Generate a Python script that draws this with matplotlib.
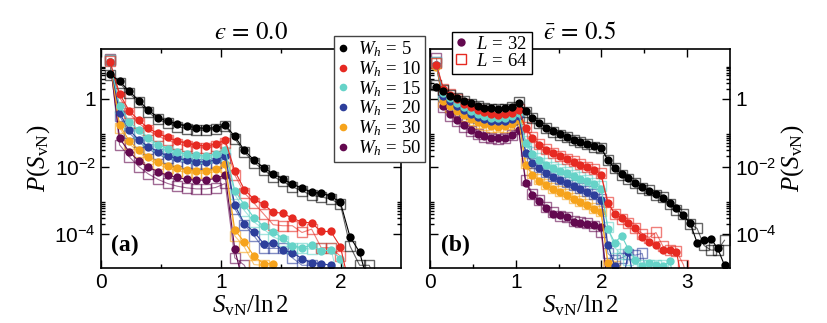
import numpy as np
import matplotlib.pyplot as plt
from matplotlib.lines import Line2D
from matplotlib.ticker import FixedLocator, NullFormatter

plt.rcParams['font.family'] = 'Liberation Sans'
plt.rcParams['mathtext.fontset'] = 'custom'
plt.rcParams['mathtext.rm'] = 'Liberation Serif'
plt.rcParams['mathtext.it'] = 'Liberation Serif:italic'
plt.rcParams['mathtext.bf'] = 'Liberation Serif:bold'
plt.rcParams['mathtext.sf'] = 'Liberation Sans'

# histogram bin centres of S_vN / ln 2
s_centers = np.round(0.075 + 0.08 * np.arange(43), 3)

wh_values = ['5', '10', '15', '20', '30', '50']
colors = ['#000000', '#e62a22', '#66d3c8', '#2d3f9b', '#f6a31c', '#63094f']

# ---- panel (a), eps = 0.0 : log10 P(S_vN) ----
# L = 32 (filled circles)
a32_w5 = [0.74, 0.52, 0.23, -0.05, -0.33, -0.55, -0.66, -0.74, -0.80, -0.85, -0.87, -0.85, -0.77,
          -1.11, -1.52, -1.81, -2.03, -2.22, -2.36, -2.52, -2.64, -2.76, -2.79, -2.87, -3.06,
          -4.08, -4.53, -5.6]
a32_w10 = [1.10, 0.15, -0.35, -0.63, -0.87, -1.02, -1.14, -1.24, -1.31, -1.37, -1.39, -1.34, -1.22,
           -2.13, -2.68, -2.97, -3.12, -3.35, -3.38, -3.53, -3.64, -3.67, -3.92, -3.92, -4.37, -5.6]
a32_w15 = [1.10, -0.20, -0.68, -0.92, -1.15, -1.35, -1.47, -1.57, -1.64, -1.67, -1.69, -1.63, -1.51,
           -2.71, -3.14, -3.51, -3.77, -3.93, -4.12, -4.34, -4.40, -4.33, -4.50, -4.47, -4.72, -5.6]
a32_w20 = [1.10, -0.42, -0.92, -1.21, -1.41, -1.56, -1.69, -1.76, -1.81, -1.86, -1.86, -1.81, -1.69,
           -3.14, -3.69, -3.93, -4.28, -4.26, -4.47, -4.55, -4.72, -4.85, -4.87, -4.92, -5.6]
a32_w30 = [1.10, -0.77, -1.24, -1.51, -1.71, -1.86, -1.98, -2.05, -2.10, -2.12, -2.12, -2.08, -1.92,
           -3.88, -4.23, -4.65, -4.87, -4.87, -5.6]
a32_w50 = [1.10, -1.17, -1.56, -1.84, -2.02, -2.15, -2.26, -2.32, -2.38, -2.40, -2.40, -2.35, -2.25,
           -4.45, -5.6]
# L = 64 (open squares)
a64_w5 = [0.72, 0.47, 0.17, -0.10, -0.40, -0.60, -0.72, -0.82, -0.88, -0.92, -0.93, -0.90, -0.80,
          -1.18, -1.58, -1.88, -2.10, -2.30, -2.44, -2.60, -2.72, -2.85, -2.90, -2.96, -3.12,
          -4.35, -4.92, -4.92, -5.6]
a64_w10 = [1.12, 0.05, -0.42, -0.72, -0.93, -1.10, -1.22, -1.32, -1.40, -1.44, -1.45, -1.40, -1.30,
           -2.25, -2.78, -3.08, -3.40, -3.72, -3.75, -3.75, -3.95, -3.85, -4.40, -4.40, -4.65, -5.6]
a64_w15 = [1.15, -0.28, -0.75, -1.00, -1.22, -1.40, -1.53, -1.63, -1.70, -1.74, -1.75, -1.70, -1.58,
           -2.82, -3.30, -3.64, -3.85, -4.08, -4.20, -4.40, -4.40, -4.45, -4.42, -4.42, -5.6]
a64_w20 = [1.15, -0.50, -1.00, -1.28, -1.48, -1.64, -1.76, -1.84, -1.90, -1.93, -1.93, -1.88, -1.76,
           -3.25, -3.72, -4.05, -4.42, -4.42, -4.42, -4.70, -4.92, -4.92, -5.6]
a64_w30 = [1.15, -0.85, -1.32, -1.58, -1.78, -1.93, -2.05, -2.12, -2.18, -2.20, -2.20, -2.15, -2.00,
           -4.05, -4.38, -4.90, -4.92, -5.6]
a64_w50 = [1.18, -1.36, -1.71, -2.00, -2.22, -2.38, -2.50, -2.58, -2.63, -2.66, -2.66, -2.62, -2.50,
           -4.70, -4.92, -5.6]

# ---- panel (b), eps_bar = 0.5 : log10 P(S_vN) ----
b32_w5 = [0.36, 0.24, 0.10, 0.02, -0.06, -0.13, -0.20, -0.26, -0.28, -0.30, -0.28, -0.23, -0.13,
          -0.36, -0.55, -0.70, -0.85, -0.95, -1.05, -1.12, -1.20, -1.26, -1.33, -1.40, -1.44,
          -1.81, -2.05, -2.22, -2.35, -2.48, -2.60, -2.72, -2.82, -2.92, -3.09, -3.24, -3.44,
          -3.68, -4.25, -4.16, -4.13, -4.42, -4.92]
b32_w10 = [1.00, 0.28, 0.12, 0.00, -0.15, -0.25, -0.33, -0.39, -0.45, -0.47, -0.46, -0.42, -0.33,
           -0.87, -1.15, -1.35, -1.50, -1.60, -1.70, -1.78, -1.86, -1.95, -2.02, -2.10, -2.25,
           -3.09, -3.39, -3.53, -3.68, -3.83, -4.08, -4.23, -4.33, -4.47, -4.47, -4.52, -5.6]
b32_w15 = [1.00, 0.18, 0.02, -0.12, -0.25, -0.36, -0.44, -0.50, -0.55, -0.57, -0.55, -0.50, -0.42,
           -1.30, -1.62, -1.80, -1.95, -2.05, -2.12, -2.20, -2.28, -2.36, -2.44, -2.52, -2.65,
           -3.85, -4.25, -4.05, -4.45, -4.75, -4.95, -4.85, -4.90, -4.95, -4.80, -5.6]
b32_w20 = [1.00, 0.10, -0.06, -0.20, -0.33, -0.44, -0.53, -0.60, -0.64, -0.66, -0.64, -0.60, -0.50,
           -1.60, -1.90, -2.05, -2.18, -2.30, -2.40, -2.50, -2.58, -2.66, -2.75, -2.85, -2.98,
           -4.33, -4.95, -5.6, -4.52, -5.6]
b32_w30 = [0.95, -0.05, -0.22, -0.36, -0.48, -0.60, -0.68, -0.75, -0.80, -0.82, -0.80, -0.74, -0.62,
           -1.95, -2.25, -2.42, -2.55, -2.66, -2.76, -2.85, -2.95, -3.05, -3.15, -3.25, -3.35,
           -4.86, -4.95, -5.6]
b32_w50 = [1.00, -0.20, -0.45, -0.62, -0.78, -0.92, -1.03, -1.10, -1.16, -1.17, -1.15, -1.07, -0.93,
           -2.48, -2.84, -3.02, -3.24, -3.39, -3.42, -3.49, -3.63, -3.66, -3.71, -3.73, -3.78, -5.6]
b64_w5 = [0.40, 0.26, 0.12, 0.02, -0.06, -0.14, -0.21, -0.27, -0.30, -0.31, -0.29, -0.24, -0.10,
          -0.38, -0.57, -0.72, -0.86, -0.97, -1.06, -1.14, -1.22, -1.28, -1.34, -1.42, -1.46,
          -1.80, -2.05, -2.24, -2.37, -2.50, -2.62, -2.70, -2.84, -2.90, -3.12, -3.28, -3.40,
          -3.70, -3.83, -4.33, -4.47, -4.47, -4.18]
b64_w10 = [1.05, 0.30, 0.14, 0.00, -0.15, -0.26, -0.34, -0.40, -0.45, -0.48, -0.47, -0.42, -0.30,
           -0.84, -1.12, -1.33, -1.48, -1.60, -1.68, -1.77, -1.85, -1.93, -2.00, -2.08, -2.20,
           -3.05, -3.40, -3.55, -3.68, -3.82, -3.98, -4.10, -3.95, -4.35, -4.48, -4.50, -4.90, -5.6]
b64_w15 = [1.08, 0.15, 0.00, -0.14, -0.27, -0.37, -0.45, -0.51, -0.55, -0.57, -0.55, -0.49, -0.38,
           -1.25, -1.58, -1.76, -1.90, -2.00, -2.08, -2.16, -2.24, -2.32, -2.40, -2.48, -2.58,
           -3.80, -4.40, -4.60, -4.75, -4.90, -4.90, -4.92, -4.90, -4.92, -5.6]
b64_w20 = [1.10, 0.08, -0.08, -0.22, -0.35, -0.46, -0.55, -0.62, -0.66, -0.68, -0.66, -0.61, -0.50,
           -1.55, -1.88, -2.02, -2.15, -2.27, -2.37, -2.47, -2.56, -2.64, -2.72, -2.82, -2.95,
           -4.57, -4.75, -4.70, -4.60, -4.62, -4.57, -5.6]
b64_w30 = [1.05, -0.08, -0.25, -0.39, -0.51, -0.62, -0.70, -0.77, -0.82, -0.84, -0.82, -0.75, -0.60,
           -1.90, -2.20, -2.38, -2.52, -2.62, -2.72, -2.82, -2.92, -3.02, -3.12, -3.22, -3.30,
           -4.92, -4.95, -5.6]
b64_w50 = [1.20, -0.25, -0.50, -0.66, -0.82, -0.95, -1.05, -1.12, -1.17, -1.18, -1.15, -1.06, -0.90,
           -2.40, -2.80, -3.00, -3.20, -3.35, -3.45, -3.50, -3.60, -3.65, -3.68, -3.75, -3.95, -5.6]

a32 = [a32_w5, a32_w10, a32_w15, a32_w20, a32_w30, a32_w50]
a64 = [a64_w5, a64_w10, a64_w15, a64_w20, a64_w30, a64_w50]
b32 = [b32_w5, b32_w10, b32_w15, b32_w20, b32_w30, b32_w50]
b64 = [b64_w5, b64_w10, b64_w15, b64_w20, b64_w30, b64_w50]


def draw(ax, circ, sq):
    for i in reversed(range(6)):
        y = 10.0 ** np.array(sq[i])
        ax.plot(s_centers[:len(y)], y, '-', color=colors[i], lw=0.8, alpha=0.6,
                marker='s', ms=7, mfc='none', mec=colors[i], mew=1.0)
    for i in reversed(range(6)):
        y = 10.0 ** np.array(circ[i])
        ax.plot(s_centers[:len(y)], y, '-', color=colors[i], lw=0.8,
                marker='o', ms=6, mfc=colors[i], mec=colors[i], mew=0)


def style(ax, xmax, xmajor, xminor):
    ax.set_yscale('log')
    ax.set_ylim(1e-5, 30)
    ax.set_xlim(0, xmax)
    ax.yaxis.set_major_locator(FixedLocator([1e-4, 1e-2, 1]))
    ax.yaxis.set_minor_locator(FixedLocator([m * 10.0 ** e for e in (-4, -2, 0) for m in range(2, 10)]))
    ax.yaxis.set_minor_formatter(NullFormatter())
    ax.set_yticklabels([r'$\mathsf{10^{-4}}$', r'$\mathsf{10^{-2}}$', '1'])
    ax.set_xticks(xmajor)
    ax.set_xticks(xminor, minor=True)
    ax.tick_params(which='both', direction='in', top=True, right=True, labelsize=15, width=1)
    ax.tick_params(which='major', length=6)
    ax.tick_params(which='minor', length=3)
    for sp in ax.spines.values():
        sp.set_linewidth(1.2)
    ax.set_xlabel(r'$S_{\mathrm{vN}}/\ln 2$', fontsize=18, labelpad=1)
    ax.set_ylabel(r'$P(S_{\mathrm{vN}})$', fontsize=18, labelpad=2)


fig = plt.figure(figsize=(8.27, 3.23), dpi=100)
ax1 = fig.add_axes([0.1221, 0.1703, 0.3628, 0.678])
ax2 = fig.add_axes([0.5200, 0.1703, 0.3628, 0.678])

draw(ax1, a32, a64)
draw(ax2, b32, b64)
style(ax1, 2.5, [0, 1, 2], [0.5, 1.5])
style(ax2, 3.5, [0, 1, 2, 3], [0.5, 1.5, 2.5])
ax2.tick_params(which='both', labelleft=False, labelright=True)
ax2.yaxis.set_label_position('right')

ax1.set_title('$\u03f5\\,=\\,0.0$', fontsize=18, pad=7, math_fontfamily='stix')
ax2.set_title('$\\bar{\u03f5}\\,=\\,0.5$', fontsize=18, pad=7, math_fontfamily='stix')

ax1.text(0.035, 0.105, '(a)', transform=ax1.transAxes, fontsize=17, fontweight='bold',
         family='Liberation Serif', va='center')
ax2.text(0.035, 0.105, '(b)', transform=ax2.transAxes, fontsize=17, fontweight='bold',
         family='Liberation Serif', va='center')

h1 = [Line2D([], [], ls='none', marker='o', ms=5.5, mfc=c, mec=c, mew=0) for c in colors]
l1 = [r'$W_h\,=\,%s$' % w for w in wh_values]
leg1 = fig.legend(h1, l1, loc='upper left', bbox_to_anchor=(0.404, 0.889), fontsize=13.5,
                  frameon=True, fancybox=False, framealpha=1, edgecolor='#444444',
                  handlelength=0.6, handletextpad=0.5, labelspacing=0.0, borderpad=0.2,
                  borderaxespad=0)
leg1.get_frame().set_linewidth(1.0)

h2 = [Line2D([], [], ls='none', marker='o', ms=6, mfc=colors[5], mec=colors[5], mew=0),
      Line2D([], [], ls='none', marker='s', ms=7, mfc='none', mec=colors[1], mew=1.0)]
leg2 = fig.legend(h2, [r'$L\,=\,32$', r'$L\,=\,64$'], loc='upper left', bbox_to_anchor=(0.5466, 0.901),
                  fontsize=13.5, frameon=True, fancybox=False, framealpha=1, edgecolor='#000000',
                  handlelength=0.6, handletextpad=0.5, labelspacing=0.0, borderpad=0.2,
                  borderaxespad=0)
leg2.get_frame().set_linewidth(1.0)

fig.savefig('out.png', dpi=100)
